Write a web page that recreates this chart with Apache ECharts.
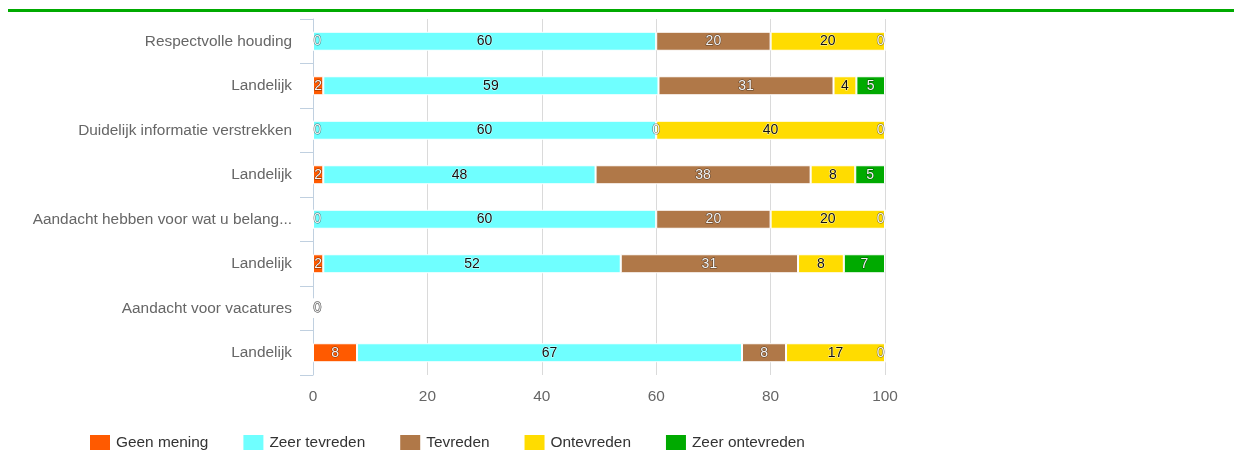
<!DOCTYPE html>
<html>
<head>
<meta charset="utf-8">
<script src="https://cdn.jsdelivr.net/npm/echarts@6/dist/echarts.min.js"></script>
<style>
  html, body { margin: 0; padding: 0; background: #fff; }
  #main { width: 1234px; height: 464px; }
</style>
</head>
<body>
<div id="main"></div>
<script>
// categories, top to bottom
var categories = ['Respectvolle houding', 'Landelijk', 'Duidelijk informatie verstrekken', 'Landelijk',
  'Aandacht hebben voor wat u belang...', 'Landelijk', 'Aandacht voor vacatures', 'Landelijk'];
var xTicks = [0, 20, 40, 60, 80, 100];

// percentages per answer (labels are rounded)
var geenMening     = [0, 1.8, 0, 1.8, 0, 1.8, 0, 7.7];
var zeerTevreden   = [60, 58.6, 60, 47.6, 60, 52.0, 0, 67.3];
var tevreden       = [20, 30.6, 0, 37.6, 20, 31.0, 0, 7.7];
var ontevreden     = [20, 4.0, 40, 7.8, 20, 8.0, 0, 17.3];
var zeerOntevreden = [0, 5.0, 0, 5.2, 0, 7.2, 0, 0];

var allSeries = [geenMening, zeerTevreden, tevreden, ontevreden, zeerOntevreden];

// zero values: keep the "0" label inside the plot, like the original
function buildData(idx){
  return allSeries[idx].map(function(v, row){
    if (v !== 0) return v;
    var before = 0;
    for (var i = 0; i < idx; i++) before += allSeries[i][row];
    var pos = 'inside';
    if (before === 0) pos = 'insideLeft';
    else if (before >= 99.9) pos = 'insideRight';
    return { value: v, label: { position: pos, distance: 1 } };
  });
}

function makeSeries(name, idx, color, dark){
  return {
    name: name,
    type: 'bar',
    stack: 'total',
    barWidth: 19,
    data: buildData(idx),
    itemStyle: { color: color, borderColor: '#fff', borderWidth: 1 },
    label: {
      show: true,
      position: 'inside',
      fontSize: 14,
      color: dark ? '#f4f4f4' : '#111',
      textBorderColor: dark ? 'rgba(0,0,0,0.55)' : 'rgba(255,255,255,0.7)',
      textBorderWidth: 1,
      formatter: function(p){ return Math.round(p.value); }
    }
  };
}

var myChart = echarts.init(document.getElementById('main'));
myChart.setOption({
  animation: false,
  textStyle: { fontFamily: 'Arial, Liberation Sans, sans-serif' },
  graphic: [{
    type: 'rect',
    shape: { x: 8, y: 9, width: 1226, height: 3 },
    style: { fill: '#00aa00' }
  }],
  grid: { left: 313, right: 349, top: 19, bottom: 89 },
  legend: {
    left: 88,
    top: 433,
    padding: 0,
    itemWidth: 22,
    itemHeight: 17,
    itemGap: 33,
    icon: 'rect',
    textStyle: { fontSize: 15.4, color: '#333' },
    data: ['Geen mening', 'Zeer tevreden', 'Tevreden', 'Ontevreden', 'Zeer ontevreden']
  },
  xAxis: {
    type: 'value',
    min: xTicks[0],
    max: xTicks[xTicks.length - 1],
    interval: 20,
    axisLine: { show: false },
    axisTick: { show: false },
    axisLabel: { fontSize: 15.4, color: '#666', margin: 14 },
    splitLine: { lineStyle: { color: '#dadada' } }
  },
  yAxis: {
    type: 'category',
    inverse: true,
    data: categories,
    axisLine: { show: true, lineStyle: { color: '#c0d0e0' } },
    axisTick: { show: true, length: 13, lineStyle: { color: '#c0d0e0' } },
    axisLabel: { fontSize: 15.4, color: '#666', margin: 21 }
  },
  series: [
    makeSeries('Geen mening', 0, '#ff5a00', true),
    makeSeries('Zeer tevreden', 1, '#6fffff', false),
    makeSeries('Tevreden', 2, '#b07848', true),
    makeSeries('Ontevreden', 3, '#ffdc00', false),
    makeSeries('Zeer ontevreden', 4, '#00aa00', true)
  ]
});
</script>
</body>
</html>
